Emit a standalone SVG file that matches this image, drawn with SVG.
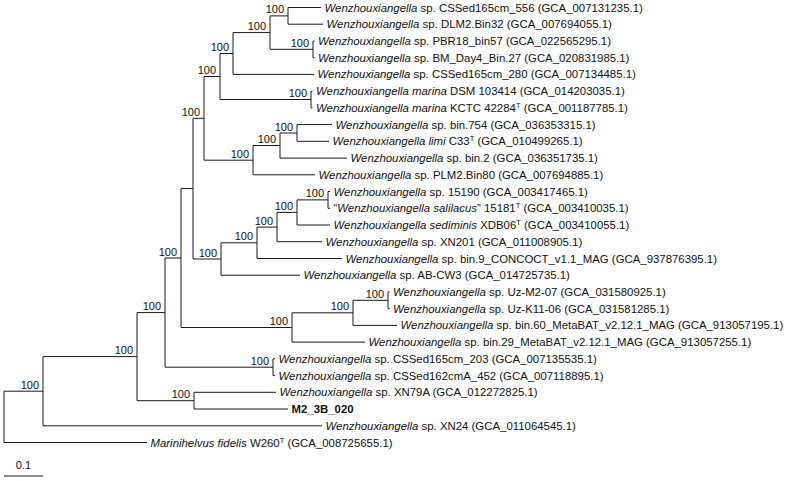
<svg xmlns="http://www.w3.org/2000/svg" width="792" height="481" viewBox="0 0 792 481">
<style>
.e{fill:none;stroke:#1a1a1a;stroke-width:1}
.t{font-family:"Liberation Sans",Arial,sans-serif;font-size:11.4px;fill:#111}
.b{font-family:"Liberation Sans",Arial,sans-serif;font-size:11px;fill:#111;text-anchor:end}
.i{font-style:italic}
.s{font-size:7.5px}
</style>
<rect width="792" height="481" fill="#fff"/>
<g id="connectors">
<path class="e" d="M4,391.2V442.5M4,391.2H43M4,442.5H147
M43,356.6V425.8M43,356.6H137M43,425.8H322
M137,312.6V400.7M137,312.6H165M137,400.7H194
M194,392.3V409M194,392.3H276M194,409H288
M165,258V367.2M165,258H181M165,367.2H273
M273,358.8V375.6M273,358.8H275M273,375.6H275
M181,188.6V327.5M181,188.6H193M181,327.5H292
M292,312.8V342.1M292,312.8H353M292,342.1H365
M353,300.3V325.4M353,300.3H388M353,325.4H397
M388,291.9V308.6M388,291.9H389.5M388,308.6H389.5
M193,118.3V259M193,118.3H204M193,259H221
M221,242.8V275.2M221,242.8H257M221,275.2H300
M257,227.1V258.5M257,227.1H277M257,258.5H342
M277,212.4V241.7M277,212.4H297M277,241.7H322
M297,199.9V225M297,199.9H328M297,225H330
M328,191.5V208.3M328,191.5H330M328,208.3H330
M204,76.5V160.2M204,76.5H220M204,160.2H253
M253,145.5V174.8M253,145.5H280M253,174.8H315
M280,133V158.1M280,133H297M280,158.1H347
M297,124.6V141.3M297,124.6H332M297,141.3H329
M220,53.5V99.5M220,53.5H233M220,99.5H311
M311,91.2V107.9M311,91.2H312.5M311,107.9H312.5
M233,32.6V74.4M233,32.6H270M233,74.4H314
M270,15.9V49.3M270,15.9H288M270,49.3H313
M313,41V57.7M313,41H314.5M313,57.7H314.5
M288,7.5V24.2M288,7.5H321M288,24.2H323
M4,476H43"/>
</g>
<g id="support">
<text class="b" x="39" y="388.7">100</text>
<text class="b" x="133" y="354.1">100</text>
<text class="b" x="161" y="310.1">100</text>
<text class="b" x="190" y="398.2">100</text>
<text class="b" x="269" y="364.7">100</text>
<text class="b" x="177" y="255.5">100</text>
<text class="b" x="288" y="325">100</text>
<text class="b" x="349" y="310.3">100</text>
<text class="b" x="384" y="297.8">100</text>
<text class="b" x="217" y="256.5">100</text>
<text class="b" x="253" y="240.3">100</text>
<text class="b" x="273" y="224.6">100</text>
<text class="b" x="293" y="209.9">100</text>
<text class="b" x="324" y="197.4">100</text>
<text class="b" x="200" y="115.8">100</text>
<text class="b" x="249" y="157.7">100</text>
<text class="b" x="276" y="143">100</text>
<text class="b" x="293" y="130.5">100</text>
<text class="b" x="216" y="74">100</text>
<text class="b" x="307" y="97">100</text>
<text class="b" x="229" y="51">100</text>
<text class="b" x="266" y="30.1">100</text>
<text class="b" x="309" y="46.8">100</text>
<text class="b" x="284" y="13.4">100</text>
</g>
<g id="tips">
<g id="t0"><text class="t" x="324.5" y="11.5"><tspan class="i">Wenzhouxiangella</tspan> sp. CSSed165cm_556 (GCA_007131235.1)</text></g>
<g id="t1"><text class="t" x="326.5" y="28.2"><tspan class="i">Wenzhouxiangella</tspan> sp. DLM2.Bin32 (GCA_007694055.1)</text></g>
<g id="t2"><text class="t" x="318" y="45"><tspan class="i">Wenzhouxiangella</tspan> sp. PBR18_bin57 (GCA_022565295.1)</text></g>
<g id="t3"><text class="t" x="318" y="61.7"><tspan class="i">Wenzhouxiangella</tspan> sp. BM_Day4_Bin.27 (GCA_020831985.1)</text></g>
<g id="t4"><text class="t" x="317.5" y="78.4"><tspan class="i">Wenzhouxiangella</tspan> sp. CSSed165cm_280 (GCA_007134485.1)</text></g>
<g id="t5"><text class="t" x="316" y="95.2"><tspan class="i">Wenzhouxiangella marina</tspan> DSM 103414 (GCA_014203035.1)</text></g>
<g id="t6"><text class="t" x="316" y="111.9"><tspan class="i">Wenzhouxiangella marina</tspan> KCTC 42284<tspan class="s" dy="-4">T</tspan><tspan dy="4"> (GCA_001187785.1)</tspan></text></g>
<g id="t7"><text class="t" x="335.5" y="128.6"><tspan class="i">Wenzhouxiangella</tspan> sp. bin.754 (GCA_036353315.1)</text></g>
<g id="t8"><text class="t" x="332.5" y="145.3"><tspan class="i">Wenzhouxiangella limi</tspan> C33<tspan class="s" dy="-4">T</tspan><tspan dy="4"> (GCA_010499265.1)</tspan></text></g>
<g id="t9"><text class="t" x="350.5" y="162.1"><tspan class="i">Wenzhouxiangella</tspan> sp. bin.2 (GCA_036351735.1)</text></g>
<g id="t10"><text class="t" x="318.5" y="178.8"><tspan class="i">Wenzhouxiangella</tspan> sp. PLM2.Bin80 (GCA_007694885.1)</text></g>
<g id="t11"><text class="t" x="333.5" y="195.5"><tspan class="i">Wenzhouxiangella</tspan> sp. 15190 (GCA_003417465.1)</text></g>
<g id="t12"><text class="t" x="333.5" y="212.3">“<tspan class="i">Wenzhouxiangella salilacus</tspan>” 15181<tspan class="s" dy="-4">T</tspan><tspan dy="4"> (GCA_003410035.1)</tspan></text></g>
<g id="t13"><text class="t" x="333.5" y="229"><tspan class="i">Wenzhouxiangella sediminis</tspan> XDB06<tspan class="s" dy="-4">T</tspan><tspan dy="4"> (GCA_003410055.1)</tspan></text></g>
<g id="t14"><text class="t" x="325.5" y="245.7"><tspan class="i">Wenzhouxiangella</tspan> sp. XN201 (GCA_011008905.1)</text></g>
<g id="t15"><text class="t" x="345.5" y="262.5"><tspan class="i">Wenzhouxiangella</tspan> sp. bin.9_CONCOCT_v1.1_MAG (GCA_937876395.1)</text></g>
<g id="t16"><text class="t" x="303.5" y="279.2"><tspan class="i">Wenzhouxiangella</tspan> sp. AB-CW3 (GCA_014725735.1)</text></g>
<g id="t17"><text class="t" x="393" y="295.9"><tspan class="i">Wenzhouxiangella</tspan> sp. Uz-M2-07 (GCA_031580925.1)</text></g>
<g id="t18"><text class="t" x="393" y="312.6"><tspan class="i">Wenzhouxiangella</tspan> sp. Uz-K11-06 (GCA_031581285.1)</text></g>
<g id="t19"><text class="t" x="400.5" y="329.4"><tspan class="i">Wenzhouxiangella</tspan> sp. bin.60_MetaBAT_v2.12.1_MAG (GCA_913057195.1)</text></g>
<g id="t20"><text class="t" x="368.5" y="346.1"><tspan class="i">Wenzhouxiangella</tspan> sp. bin.29_MetaBAT_v2.12.1_MAG (GCA_913057255.1)</text></g>
<g id="t21"><text class="t" x="278.5" y="362.8"><tspan class="i">Wenzhouxiangella</tspan> sp. CSSed165cm_203 (GCA_007135535.1)</text></g>
<g id="t22"><text class="t" x="278.5" y="379.6"><tspan class="i">Wenzhouxiangella</tspan> sp. CSSed162cmA_452 (GCA_007118895.1)</text></g>
<g id="t23"><text class="t" x="279.5" y="396.3"><tspan class="i">Wenzhouxiangella</tspan> sp. XN79A (GCA_012272825.1)</text></g>
<g id="t24"><text class="t" x="291.5" y="413" font-weight="bold">M2_3B_020</text></g>
<g id="t25"><text class="t" x="325.5" y="429.8"><tspan class="i">Wenzhouxiangella</tspan> sp. XN24 (GCA_011064545.1)</text></g>
<g id="t26"><text class="t" x="150.5" y="446.5"><tspan class="i">Marinihelvus fidelis</tspan> W260<tspan class="s" dy="-4">T</tspan><tspan dy="4"> (GCA_008725655.1)</tspan></text></g>
</g>
<g id="scale"><text class="b" x="23.5" y="469" style="text-anchor:middle">0.1</text></g>
</svg>
